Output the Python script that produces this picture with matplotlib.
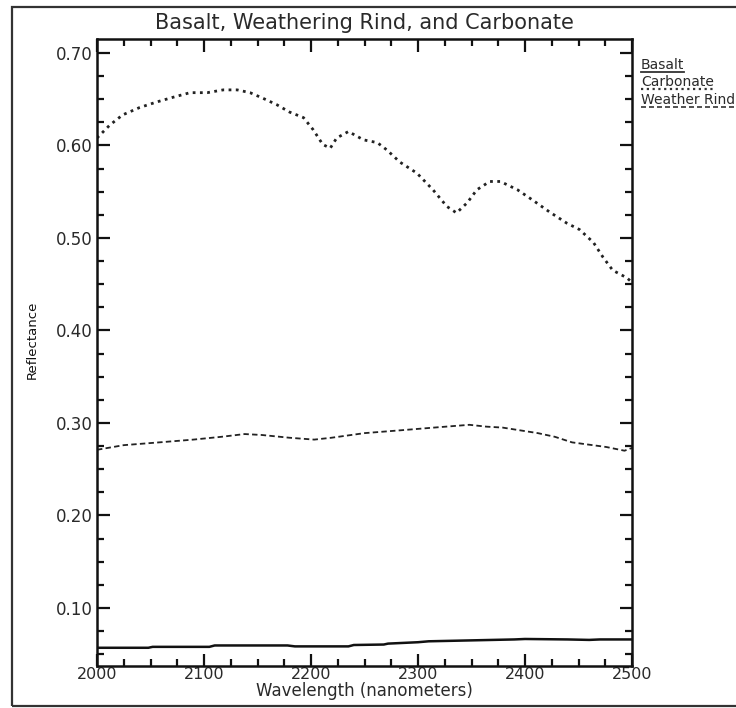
import matplotlib
matplotlib.use("Agg")
import matplotlib.pyplot as plt
from matplotlib.lines import Line2D
from matplotlib.patches import Rectangle
from matplotlib.ticker import MultipleLocator

# Reflectance spectra (wavelength in nm)
carbonate_wl = [2000, 2012, 2024, 2040, 2056, 2071, 2087, 2103, 2118, 2131, 2143,
                2155, 2168, 2180, 2193, 2202, 2211, 2218, 2224, 2235, 2249, 2262,
                2271, 2283, 2299, 2314, 2327, 2336, 2346, 2355, 2367, 2377, 2393,
                2407, 2423, 2439, 2451, 2464, 2473, 2482, 2495, 2500]
carbonate_refl = [0.608, 0.622, 0.633, 0.641, 0.647, 0.652, 0.657, 0.657, 0.660,
                  0.660, 0.657, 0.651, 0.644, 0.636, 0.630, 0.617, 0.601, 0.597,
                  0.608, 0.615, 0.606, 0.603, 0.595, 0.582, 0.570, 0.552, 0.534,
                  0.527, 0.538, 0.552, 0.561, 0.561, 0.552, 0.541, 0.528, 0.516,
                  0.509, 0.495, 0.479, 0.465, 0.457, 0.452]

rind_wl = [2000, 2025, 2058, 2090, 2116, 2138, 2154, 2180, 2203, 2219, 2250, 2283,
           2315, 2348, 2364, 2379, 2412, 2428, 2444, 2476, 2493, 2500]
rind_refl = [0.271, 0.276, 0.279, 0.282, 0.285, 0.288, 0.287, 0.284, 0.282, 0.284,
             0.289, 0.292, 0.295, 0.298, 0.296, 0.295, 0.289, 0.285, 0.279, 0.274,
             0.270, 0.273]

basalt_wl = [2000, 2048, 2052, 2105, 2110, 2178, 2185, 2235, 2240, 2268, 2272,
             2300, 2310, 2330, 2350, 2390, 2400, 2440, 2460, 2470, 2500]
basalt_refl = [0.0570, 0.0570, 0.0580, 0.0580, 0.0595, 0.0595, 0.0585, 0.0585,
               0.0600, 0.0605, 0.0615, 0.0630, 0.0640, 0.0645, 0.0650, 0.0660,
               0.0665, 0.0660, 0.0655, 0.0660, 0.0660]

y_ticks = [0.10, 0.20, 0.30, 0.40, 0.50, 0.60, 0.70]
x_ticks = [2000, 2100, 2200, 2300, 2400, 2500]
legend_names = ["Basalt", "Carbonate", "Weather Rind"]

plt.rcParams["font.family"] = ["DejaVu Sans"]
TXT = "#2a2a2a"

fig = plt.figure(figsize=(7.36, 7.08), dpi=100)
ax = fig.add_axes([97 / 736, 1 - 666 / 708, (632 - 97) / 736, (666 - 39) / 708])

dotted = (0, (1.0, 1.6))
dashed = (0, (3.0, 1.8))
ax.plot(basalt_wl, basalt_refl, color="#111111", lw=1.8, ls="-")
ax.plot(carbonate_wl, carbonate_refl, color="#222222", lw=2.0, ls=dotted)
ax.plot(rind_wl, rind_refl, color="#222222", lw=1.3, ls=dashed)

ax.set_xlim(2000, 2500)
ax.set_ylim(0.0373, 0.715)
ax.set_xticks(x_ticks)
ax.set_yticks(y_ticks)
ax.set_yticklabels([f"{v:.2f}" for v in y_ticks])
ax.xaxis.set_minor_locator(MultipleLocator(25))
ax.yaxis.set_minor_locator(MultipleLocator(0.025))
ax.tick_params(which="both", direction="in", top=True, right=True,
               width=1.6, color="#111111", labelsize=12, labelcolor=TXT)
ax.tick_params(which="major", length=9)
ax.tick_params(which="minor", length=5)
ax.tick_params(axis="x", pad=1, labelsize=11.5)
ax.tick_params(axis="y", pad=3)
for s in ax.spines.values():
    s.set_linewidth(1.8)
    s.set_color("#111111")

ax.set_title("Basalt, Weathering Rind, and Carbonate", fontsize=15,
             color=TXT, pad=7)
ax.set_xlabel("Wavelength (nanometers)", fontsize=12, color=TXT, labelpad=0)
ax.set_ylabel("Reflectance", fontsize=9.5, color="#111111")
ax.yaxis.set_label_coords((39 - 97) / 535, (666 - 340) / 627)

# Legend: names underlined with each line style
styles = ["-", dotted, dashed]
widths = [1.3, 1.6, 1.2]
fig.canvas.draw()
renderer = fig.canvas.get_renderer()
for i, (name, st, lw) in enumerate(zip(legend_names, styles, widths)):
    ty = 1 - (65 + i * 17.5) / 708
    t = fig.text(641 / 736, ty, name, fontsize=10, color=TXT,
                 va="center", ha="left")
    bb = t.get_window_extent(renderer=renderer)
    x1 = bb.x1 / fig.bbox.width
    ly = 1 - (71.5 + i * 17.5) / 708
    fig.add_artist(Line2D([641 / 736, x1], [ly, ly],
                          transform=fig.transFigure, color="#333333", lw=lw, ls=st))

# Outer frame
fig.add_artist(Rectangle((12 / 736, 1 - 706 / 708), 730 / 736, (706 - 7) / 708,
                         transform=fig.transFigure, fill=False,
                         edgecolor="#333333", lw=1.6))

fig.savefig("out.png", dpi=100)
